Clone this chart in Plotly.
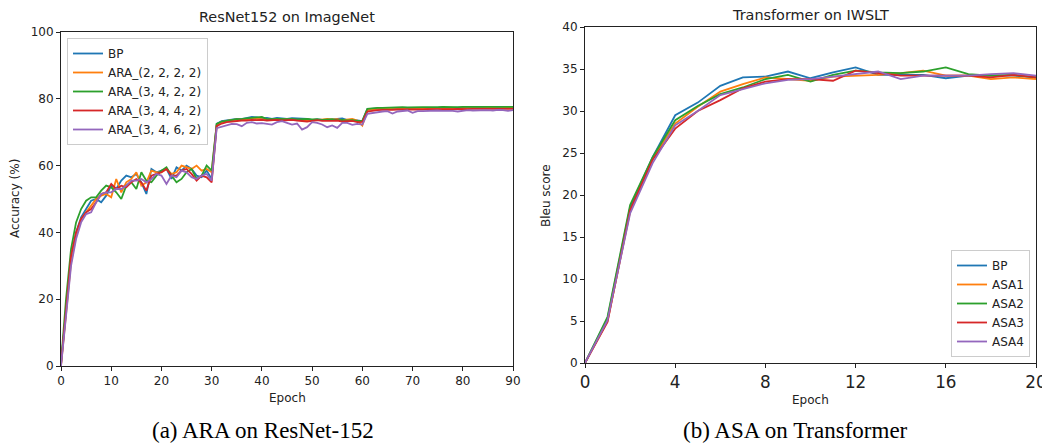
import plotly.graph_objects as go

# ---------------- data: ResNet152 on ImageNet (epochs 0..90) ----------------
epochs_a = list(range(0, 91))
names_a = ["BP", "ARA_(2, 2, 2, 2)", "ARA_(3, 4, 2, 2)", "ARA_(3, 4, 4, 2)", "ARA_(3, 4, 6, 2)"]

bp_acc = [0.5, 17, 32, 40, 44.5, 47, 49.5, 50, 49, 51, 54, 53, 55.5, 57, 56.5, 57.5, 55, 51.5, 59, 58, 58.5, 59, 56, 59.5, 58.5, 60, 59, 57, 56.5, 58.5, 56,
          72.5, 73.3, 73.6, 73.8, 74.0, 73.9, 74.2, 74.6, 74.4, 74.1, 74.3, 74.0, 74.3, 74.2, 74.0, 74.2, 74.1, 73.9, 74.0, 73.6, 73.8, 73.7, 73.6, 73.7, 74.0, 74.1, 73.6, 73.4, 73.5, 73.3,
          76.9, 77.0, 77.1, 77.2, 77.0, 77.2, 77.3, 77.2, 77.1, 77.3, 77.2, 77.1, 77.3, 77.2, 77.3, 77.4, 77.2, 77.3, 77.4, 77.3, 77.4, 77.3, 77.4, 77.5, 77.4, 77.5, 77.4, 77.5, 77.4, 77.5]
ara_2222 = [0, 15, 31, 39, 44, 46, 48, 50, 51, 51.5, 50.5, 56, 52, 55, 56, 58, 54, 55, 58.5, 58, 58, 59, 57.5, 58, 60, 59.5, 59, 60, 58.5, 59, 58,
            72.2, 73.0, 73.4, 73.6, 73.8, 73.7, 74.0, 74.1, 74.0, 73.9, 74.0, 73.7, 74.0, 73.9, 73.8, 73.9, 73.7, 73.5, 73.6, 73.4, 73.6, 73.8, 74.0, 73.8, 73.9, 73.6, 73.8, 74.0, 73.5, 72.0,
            76.6, 76.9, 77.0, 77.0, 77.1, 76.9, 77.0, 77.1, 77.0, 77.1, 77.2, 77.0, 77.1, 77.2, 77.1, 77.0, 77.2, 77.1, 77.2, 77.1, 77.2, 77.2, 77.1, 77.2, 77.3, 77.2, 77.2, 77.3, 77.2, 77.3]
ara_3422 = [1, 20, 35, 43, 47, 49.5, 50.5, 50.5, 52.5, 54, 53.5, 52, 50, 54, 55, 53, 58, 55.5, 55, 57, 58.5, 59.5, 57, 55, 56, 58, 59, 56, 57, 60, 58.5,
            72.5, 73.2, 73.5, 73.7, 73.9, 74.0, 74.1, 74.3, 74.5, 74.6, 73.9, 74.0, 74.1, 74.0, 73.9, 74.0, 73.8, 73.9, 74.0, 73.8, 73.9, 73.7, 73.8, 73.9, 73.6, 73.7, 73.5, 73.6, 73.4, 73.4,
            77.0, 77.2, 77.3, 77.3, 77.4, 77.3, 77.4, 77.5, 77.4, 77.5, 77.4, 77.5, 77.5, 77.4, 77.5, 77.6, 77.5, 77.6, 77.5, 77.6, 77.6, 77.5, 77.6, 77.7, 77.6, 77.6, 77.7, 77.6, 77.7, 77.6]
ara_3442 = [0.5, 18, 33, 40, 44, 46, 47, 49, 51.5, 52, 54.5, 53, 54, 53.5, 55, 56, 55, 52.5, 57, 57.5, 58, 59, 57, 57, 58.5, 59, 57.5, 55.5, 57, 56.5, 55,
            71.8, 72.6, 73.0, 73.2, 73.4, 73.5, 73.5, 73.7, 73.6, 73.7, 73.5, 73.6, 73.7, 73.5, 73.6, 73.7, 73.5, 73.3, 73.2, 73.4, 73.6, 73.4, 73.3, 73.4, 73.5, 73.2, 73.3, 73.4, 73.0, 73.1,
            76.2, 76.5, 76.6, 76.7, 76.6, 76.7, 76.8, 76.7, 76.8, 76.8, 76.7, 76.8, 76.9, 76.8, 76.9, 76.9, 76.8, 76.9, 77.0, 76.9, 76.9, 77.0, 76.9, 77.0, 77.0, 76.9, 77.0, 77.0, 77.1, 77.0]
ara_3462 = [0, 15, 30, 38, 43, 45.5, 46, 49, 51.5, 52, 52, 53, 53, 54, 55.5, 55.5, 56, 55, 56, 57.5, 57, 54.5, 57, 56.5, 58.5, 58, 56.5, 56, 57, 57.5, 55.5,
            71.2, 71.6, 72.0, 72.5, 72.4, 71.8, 72.8, 73.0, 72.6, 72.7, 72.5, 72.3, 73.0, 73.3, 72.8, 72.3, 72.6, 70.8, 71.5, 73.0, 72.8, 72.3, 71.5, 72.0, 71.3, 72.8, 72.8, 72.2, 72.5, 72.3,
            75.5, 75.8, 76.0, 76.2, 76.3, 75.6, 76.2, 76.3, 76.5, 75.8, 76.3, 76.3, 76.4, 76.3, 76.5, 76.4, 76.5, 76.4, 76.2, 76.5, 76.6, 76.5, 76.6, 76.7, 76.6, 76.5, 76.7, 76.6, 76.4, 76.6]

# ---------------- data: Transformer on IWSLT (epochs 0..20) ----------------
epochs_b = list(range(0, 21))
names_b = ["BP", "ASA1", "ASA2", "ASA3", "ASA4"]
bp_bleu = [0, 5.3, 18.5, 24.5, 29.5, 31.0, 33.0, 34.0, 34.1, 34.7, 33.9, 34.6, 35.2, 34.3, 34.3, 34.3, 33.9, 34.2, 34.2, 34.2, 34.0]
asa1 = [0, 5.0, 18.0, 24.3, 28.5, 30.5, 32.3, 33.2, 34.0, 33.8, 33.6, 34.1, 34.2, 34.3, 34.5, 34.8, 34.2, 34.2, 33.8, 34.0, 33.8]
asa2 = [0, 5.5, 18.8, 24.5, 28.9, 30.6, 32.0, 32.8, 33.8, 34.3, 33.5, 34.3, 34.8, 34.6, 34.5, 34.7, 35.2, 34.4, 34.2, 34.3, 34.0]
asa3 = [0, 4.9, 18.2, 24.2, 27.9, 30.0, 31.3, 32.7, 33.5, 33.8, 33.8, 33.6, 34.8, 34.5, 34.2, 34.2, 34.2, 34.2, 34.0, 34.3, 34.0]
asa4 = [0, 5.1, 17.8, 23.8, 28.3, 30.0, 31.9, 32.6, 33.3, 33.7, 33.8, 34.1, 34.4, 34.7, 33.8, 34.2, 34.2, 34.2, 34.4, 34.5, 34.2]

colors = ["#1f77b4", "#ff7f0e", "#2ca02c", "#d62728", "#9467bd"]

# The page body has an 8px margin, so the figure is 8px smaller and positions are shifted.
OFF = 8
W, H = 1050 - OFF, 447 - OFF
def px_x(p): return (p - OFF) / W
def px_y(p): return (H - (p - OFF)) / H

fig = go.Figure()
for name, ys, c in zip(names_a, [bp_acc, ara_2222, ara_3422, ara_3442, ara_3462], colors):
    fig.add_trace(go.Scatter(x=epochs_a, y=ys, mode="lines", name=name,
                             line=dict(color=c, width=1.8), xaxis="x", yaxis="y", legend="legend"))
for name, ys, c in zip(names_b, [bp_bleu, asa1, asa2, asa3, asa4], colors):
    fig.add_trace(go.Scatter(x=epochs_b, y=ys, mode="lines", name=name,
                             line=dict(color=c, width=1.8), xaxis="x2", yaxis="y2", legend="legend2"))

FONT = "DejaVu Sans"
axis_common = dict(showline=True, linecolor="#222", linewidth=1, mirror=True,
                   ticks="outside", ticklen=4, tickwidth=1, tickcolor="#222",
                   showgrid=False, zeroline=False, automargin=False)

fig.update_layout(
    width=W, height=H,
    margin=dict(l=0, r=0, t=0, b=0),
    paper_bgcolor="white", plot_bgcolor="white",
    font=dict(family=FONT, size=12, color="#222"),
    xaxis=dict(domain=[px_x(61), px_x(513)], anchor="y", range=[0, 90], tickvals=list(range(0, 91, 10)),
               tickfont=dict(size=12), **axis_common),
    yaxis=dict(domain=[px_y(366), px_y(32)], anchor="x", range=[0, 100], tickvals=list(range(0, 101, 20)),
               tickfont=dict(size=12), **axis_common),
    xaxis2=dict(domain=[px_x(585), px_x(1036)], anchor="y2", range=[0, 20], tickvals=list(range(0, 21, 4)),
                tickfont=dict(size=16.8), **axis_common),
    yaxis2=dict(domain=[px_y(363), px_y(27)], anchor="x2", range=[0, 40], tickvals=list(range(0, 41, 5)),
                tickfont=dict(size=12), **axis_common),
    legend=dict(x=px_x(67), y=px_y(38), xanchor="left", yanchor="top",
                bgcolor="rgba(255,255,255,0.8)", bordercolor="#cccccc", borderwidth=1,
                font=dict(size=12, family=FONT)),
    legend2=dict(x=px_x(1030), y=px_y(357), xanchor="right", yanchor="bottom",
                 bgcolor="rgba(255,255,255,0.8)", bordercolor="#cccccc", borderwidth=1,
                 font=dict(size=12, family=FONT)),
    showlegend=True,
)

def ann(text, x, y, size, family=FONT, angle=0):
    fig.add_annotation(text=text, x=px_x(x), y=px_y(y), xref="paper", yref="paper",
                       xanchor="center", yanchor="middle", showarrow=False, textangle=angle,
                       font=dict(size=size, family=family, color="#222" if family == FONT else "black"))

ann("ResNet152 on ImageNet", 287, 17, 14.4)
ann("Transformer on IWSLT", 810, 14.5, 14.4)
ann("Epoch", 287, 398, 12)
ann("Epoch", 810, 400, 12)
ann("Accuracy (%)", 15, 199, 12, angle=-90)
ann("Bleu score", 546, 196, 12, angle=-90)
ann("(a) ARA on ResNet-152", 263, 430, 23, family="Liberation Serif")
ann("(b) ASA on Transformer", 795, 430, 23, family="Liberation Serif")

fig.write_html("out.html")
